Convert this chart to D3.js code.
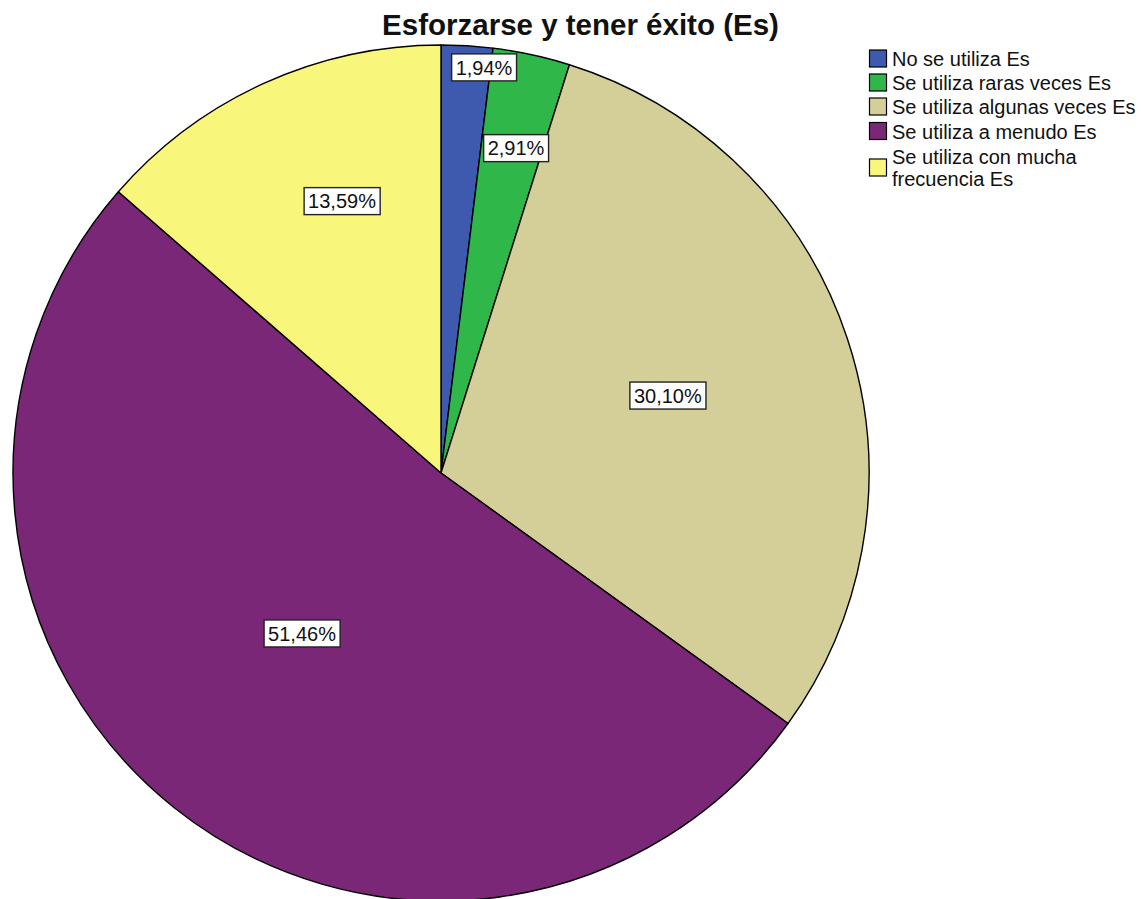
<!DOCTYPE html>
<html>
<head>
<meta charset="utf-8">
<script src="https://cdn.jsdelivr.net/npm/d3@7"></script>
<style>
  html, body { margin: 0; padding: 0; background: #fff; }
  svg { display: block; font-family: "Liberation Sans", Arial, sans-serif; }
</style>
</head>
<body>
<svg id="chart" width="1141" height="899"></svg>
<script>
// Response categories and their share of answers (%)
const categories = [
  "No se utiliza Es",
  "Se utiliza raras veces Es",
  "Se utiliza algunas veces Es",
  "Se utiliza a menudo Es",
  "Se utiliza con mucha frecuencia Es"
];
const percentages = [1.94, 2.91, 30.10, 51.46, 13.59];
const valueLabels = ["1,94%", "2,91%", "30,10%", "51,46%", "13,59%"];
const legendLines = [
  ["No se utiliza Es"],
  ["Se utiliza raras veces Es"],
  ["Se utiliza algunas veces Es"],
  ["Se utiliza a menudo Es"],
  ["Se utiliza con mucha", "frecuencia Es"]
];
const sliceColors = ["#3e5aae", "#2fb74a", "#d4cf99", "#7a2777", "#f9f77b"];

// Label anchors: angle (degrees clockwise from 12 o'clock) and fraction of radius
const labelPolar = [[6.05, 0.953], [13.0, 0.779], [71.15, 0.560], [220.9, 0.496], [340.0, 0.676]];

const svg = d3.select("#chart");
const cx = 441, cy = 473, radius = 428;

const data = categories.map((c, i) => ({ category: c, value: percentages[i], i }));

const color = d3.scaleOrdinal().domain(categories).range(sliceColors);

const pie = d3.pie().value(d => d.value).sort(null);
const arc = d3.arc().innerRadius(0).outerRadius(radius);

const g = svg.append("g").attr("transform", `translate(${cx},${cy})`);

g.selectAll("path.slice")
  .data(pie(data))
  .join("path")
  .attr("class", "slice")
  .attr("d", arc)
  .attr("fill", d => color(d.data.category))
  .attr("stroke", "#000")
  .attr("stroke-width", 1.4)
  .attr("stroke-linejoin", "round");

// Percentage labels in white boxes
const labels = g.selectAll("g.lbl")
  .data(pie(data))
  .join("g")
  .attr("class", "lbl")
  .attr("transform", d => {
    const [deg, frac] = labelPolar[d.data.i];
    const a = deg * Math.PI / 180;
    return `translate(${Math.sin(a) * radius * frac},${-Math.cos(a) * radius * frac})`;
  });

labels.append("text")
  .attr("text-anchor", "middle")
  .attr("dy", "0.36em")
  .attr("font-size", 20)
  .attr("fill", "#111")
  .text(d => valueLabels[d.data.i]);

labels.each(function() {
  const gg = d3.select(this);
  const bb = gg.select("text").node().getBBox();
  const padX = 4, h = 27;
  gg.insert("rect", "text")
    .attr("x", bb.x - padX)
    .attr("y", -h / 2)
    .attr("width", bb.width + padX * 2)
    .attr("height", h)
    .attr("fill", "#fff")
    .attr("stroke", "#222")
    .attr("stroke-width", 1.4);
});

// Title
svg.append("text")
  .attr("x", 580.5)
  .attr("y", 35)
  .attr("text-anchor", "middle")
  .attr("font-size", 29.5)
  .attr("font-weight", "bold")
  .attr("fill", "#111")
  .text("Esforzarse y tener éxito (Es)");

// Legend
const legend = svg.append("g").attr("transform", "translate(869,0)");
const rowBase = [66, 90, 114, 138.5];
const items = legend.selectAll("g.item")
  .data(data)
  .join("g")
  .attr("class", "item");

items.each(function(d) {
  const it = d3.select(this);
  const lines = legendLines[d.i];
  const base = d.i < 4 ? rowBase[d.i] : 164;
  const lineH = 22;
  const centerY = base - 7 + (lines.length - 1) * lineH / 2;
  it.append("rect")
    .attr("x", 0.5)
    .attr("y", centerY - 9)
    .attr("width", 17)
    .attr("height", 17)
    .attr("fill", color(d.category))
    .attr("stroke", "#000")
    .attr("stroke-width", 1.2);
  lines.forEach((ln, k) => {
    it.append("text")
      .attr("x", 23)
      .attr("y", base + k * lineH)
      .attr("font-size", 20)
      .attr("fill", "#111")
      .text(ln);
  });
});
</script>
</body>
</html>
